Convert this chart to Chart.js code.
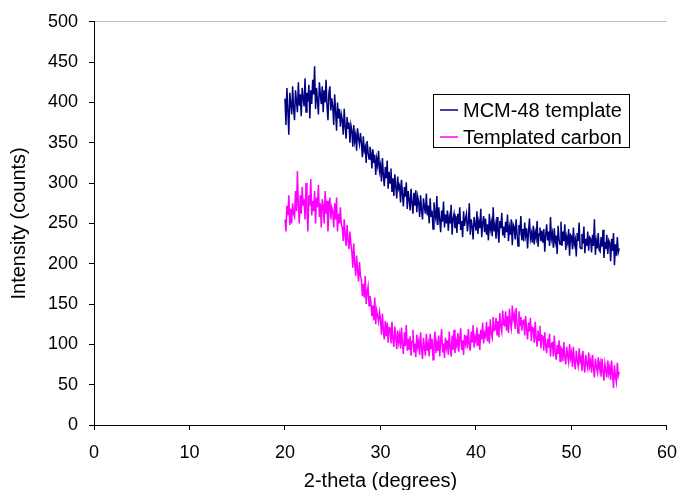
<!DOCTYPE html>
<html>
<head>
<meta charset="utf-8">
<script src="https://cdn.jsdelivr.net/npm/chart.js@4/dist/chart.umd.min.js"></script>
<style>
  html, body { margin: 0; padding: 0; background: #fff; }
  #wrap { width: 689px; height: 490px; position: relative; }
</style>
</head>
<body>
<div id="wrap"><canvas id="grafico" width="689" height="490"></canvas></div>
<script>
// 2-theta sampling points (degrees)
const twoTheta = [
  20.0,20.1,20.2,20.3,20.4,20.5,20.6,20.7,20.8,20.9,
  21.0,21.1,21.2,21.3,21.4,21.5,21.6,21.7,21.8,21.9,
  22.0,22.1,22.2,22.3,22.4,22.5,22.6,22.7,22.8,22.9,
  23.0,23.1,23.2,23.3,23.4,23.5,23.6,23.7,23.8,23.9,
  24.0,24.1,24.2,24.3,24.4,24.5,24.6,24.7,24.8,24.9,
  25.0,25.1,25.2,25.3,25.4,25.5,25.6,25.7,25.8,25.9,
  26.0,26.1,26.2,26.3,26.4,26.5,26.6,26.7,26.8,26.9,
  27.0,27.1,27.2,27.3,27.4,27.5,27.6,27.7,27.8,27.9,
  28.0,28.1,28.2,28.3,28.4,28.5,28.6,28.7,28.8,28.9,
  29.0,29.1,29.2,29.3,29.4,29.5,29.6,29.7,29.8,29.9,
  30.0,30.1,30.2,30.3,30.4,30.5,30.6,30.7,30.8,30.9,
  31.0,31.1,31.2,31.3,31.4,31.5,31.6,31.7,31.8,31.9,
  32.0,32.1,32.2,32.3,32.4,32.5,32.6,32.7,32.8,32.9,
  33.0,33.1,33.2,33.3,33.4,33.5,33.6,33.7,33.8,33.9,
  34.0,34.1,34.2,34.3,34.4,34.5,34.6,34.7,34.8,34.9,
  35.0,35.1,35.2,35.3,35.4,35.5,35.6,35.7,35.8,35.9,
  36.0,36.1,36.2,36.3,36.4,36.5,36.6,36.7,36.8,36.9,
  37.0,37.1,37.2,37.3,37.4,37.5,37.6,37.7,37.8,37.9,
  38.0,38.1,38.2,38.3,38.4,38.5,38.6,38.7,38.8,38.9,
  39.0,39.1,39.2,39.3,39.4,39.5,39.6,39.7,39.8,39.9,
  40.0,40.1,40.2,40.3,40.4,40.5,40.6,40.7,40.8,40.9,
  41.0,41.1,41.2,41.3,41.4,41.5,41.6,41.7,41.8,41.9,
  42.0,42.1,42.2,42.3,42.4,42.5,42.6,42.7,42.8,42.9,
  43.0,43.1,43.2,43.3,43.4,43.5,43.6,43.7,43.8,43.9,
  44.0,44.1,44.2,44.3,44.4,44.5,44.6,44.7,44.8,44.9,
  45.0,45.1,45.2,45.3,45.4,45.5,45.6,45.7,45.8,45.9,
  46.0,46.1,46.2,46.3,46.4,46.5,46.6,46.7,46.8,46.9,
  47.0,47.1,47.2,47.3,47.4,47.5,47.6,47.7,47.8,47.9,
  48.0,48.1,48.2,48.3,48.4,48.5,48.6,48.7,48.8,48.9,
  49.0,49.1,49.2,49.3,49.4,49.5,49.6,49.7,49.8,49.9,
  50.0,50.1,50.2,50.3,50.4,50.5,50.6,50.7,50.8,50.9,
  51.0,51.1,51.2,51.3,51.4,51.5,51.6,51.7,51.8,51.9,
  52.0,52.1,52.2,52.3,52.4,52.5,52.6,52.7,52.8,52.9,
  53.0,53.1,53.2,53.3,53.4,53.5,53.6,53.7,53.8,53.9,
  54.0,54.1,54.2,54.3,54.4,54.5,54.6,54.7,54.8,54.9,
  55.0
];

// MCM-48 template intensities (counts)
const mcm48 = [
  405,372,418,390,360,412,398,385,420,392,
  378,415,402,388,425,396,410,383,418,405,
  395,430,388,412,401,422,380,415,398,428,
  410,445,392,418,402,385,425,410,398,420,
  388,415,400,428,395,378,412,420,390,405,
  395,372,410,388,365,400,380,392,370,385,
  378,360,392,370,355,382,368,375,350,372,
  365,345,372,352,360,340,368,355,348,362,
  350,332,358,340,345,325,352,338,330,345,
  338,318,342,325,335,310,330,322,340,315,
  322,302,331,310,296,320,306,328,293,314,
  300,318,289,306,284,311,296,281,308,293,
  297,276,304,286,271,295,283,301,268,290,
  280,266,293,275,262,288,272,291,264,283,
  276,258,285,266,255,281,270,262,287,260,
  272,250,281,258,266,243,276,262,255,284,
  248,270,255,239,266,252,277,245,261,250,
  266,241,258,250,273,236,256,262,244,259,
  238,262,249,270,242,253,233,265,247,256,
  262,240,251,275,236,255,246,230,258,249,
  241,265,237,252,244,268,233,250,259,239,
  256,236,249,229,262,243,251,234,270,240,
  248,231,258,240,226,253,244,263,235,246,
  232,252,239,261,228,245,236,255,223,249,
  246,230,255,237,222,248,241,259,229,243,
  228,251,235,244,219,240,256,231,238,226,
  247,224,239,232,253,221,237,245,228,241,
  226,243,215,236,249,229,240,222,258,231,
  238,220,244,227,235,212,247,230,224,252,
  222,240,228,249,217,233,226,243,210,236,
  234,218,245,224,230,209,238,228,251,220,
  219,237,225,246,213,231,222,240,216,233,
  231,214,236,222,255,211,228,219,238,217,
  215,233,221,242,207,227,218,236,212,229,
  226,203,231,216,238,198,224,210,233,214,
  219
];

// Templated carbon intensities (counts)
const carbon = [
  255,240,272,260,285,248,268,250,275,262,
  258,290,265,315,270,250,285,262,295,272,
  280,255,300,268,240,285,272,305,260,278,
  265,290,250,282,270,298,258,275,245,280,
  272,250,290,262,278,240,268,282,255,270,
  265,245,275,255,282,240,262,250,270,248,
  245,228,255,235,222,248,230,218,240,225,
  215,195,225,200,185,210,192,178,202,185,
  180,160,175,158,185,150,165,172,148,160,
  152,135,148,130,158,125,142,135,128,140,
  131,112,138,117,106,129,110,127,102,121,
  120,101,128,106,97,122,109,94,117,103,
  112,95,121,100,88,115,98,124,92,107,
  93,110,86,104,118,90,101,84,112,97,
  104,87,115,93,82,108,96,86,113,92,
  101,85,113,94,107,81,99,116,89,102,
  92,111,85,104,119,90,101,83,108,96,
  105,87,116,96,85,111,93,118,89,104,
  98,114,91,108,120,93,105,87,112,101,
  111,95,119,100,92,116,102,124,96,109,
  104,121,98,113,93,118,106,127,101,114,
  110,128,104,122,101,131,113,108,134,117,
  118,133,112,129,109,139,121,115,142,124,
  123,141,117,135,114,144,127,120,148,131,
  137,119,145,126,114,141,123,134,117,129,
  130,111,135,119,106,127,116,133,104,121,
  120,102,128,108,97,117,105,123,95,111,
  110,92,115,98,89,107,96,113,85,101,
  102,85,111,90,81,99,88,105,79,96,
  94,79,103,84,75,97,86,78,100,83,
  90,72,97,78,69,92,80,73,95,79,
  84,67,92,74,65,87,76,70,90,73,
  80,65,87,71,59,82,73,66,84,69,
  77,60,82,66,55,76,68,59,80,64,
  72,56,80,63,46,74,60,53,77,61,
  66
];

const seriesNames = ['MCM-48 template', 'Templated carbon'];
const seriesColors = ['#000080', '#FF00FF'];

const FONT = '"Liberation Sans", Arial, sans-serif';

function toPoints(ys) {
  return ys.map((y, i) => ({ x: twoTheta[i], y: y }));
}

// legend box drawn inside the plot, like the original
const boxLegend = {
  id: 'boxLegend',
  afterDraw(chart) {
    const ctx = chart.ctx;
    const left = 433, top = 94, w = 196, h = 53;
    ctx.save();
    ctx.fillStyle = '#fff';
    ctx.fillRect(left, top, w, h);
    ctx.strokeStyle = '#000';
    ctx.lineWidth = 1;
    ctx.strokeRect(left + 0.5, top + 0.5, w, h);
    ctx.font = '20px ' + FONT;
    ctx.textBaseline = 'middle';
    seriesNames.forEach((name, i) => {
      const y = top + 16 + i * 27;
      ctx.strokeStyle = seriesColors[i];
      ctx.lineWidth = 1.5;
      ctx.beginPath();
      ctx.moveTo(left + 7, y);
      ctx.lineTo(left + 25, y);
      ctx.stroke();
      ctx.fillStyle = '#000';
      ctx.fillText(name, left + 30, y + 1);
    });
    ctx.restore();
  }
};

const ctx = document.getElementById('grafico').getContext('2d');
new Chart(ctx, {
  type: 'line',
  data: {
    datasets: [
      {
        label: seriesNames[0],
        data: toPoints(mcm48),
        borderColor: seriesColors[0],
        borderWidth: 1.5,
        pointRadius: 0,
        tension: 0,
        fill: false
      },
      {
        label: seriesNames[1],
        data: toPoints(carbon),
        borderColor: seriesColors[1],
        borderWidth: 1.5,
        pointRadius: 0,
        tension: 0,
        fill: false
      }
    ]
  },
  options: {
    responsive: false,
    animation: false,
    layout: { padding: { left: 0, right: 21, top: 13, bottom: 0 } },
    plugins: {
      legend: { display: false },
      tooltip: { enabled: false }
    },
    scales: {
      x: {
        type: 'linear',
        min: 0,
        max: 60,
        ticks: { stepSize: 10, color: '#000', font: { family: FONT, size: 18 }, padding: 12 },
        grid: { drawOnChartArea: false, drawTicks: true, tickLength: 5, color: '#000' },
        border: { display: true, color: '#000', width: 1 },
        title: { display: true, text: '2-theta (degrees)', color: '#000', font: { family: FONT, size: 20 }, padding: { top: 0, bottom: -3 } },
        afterFit(scale) { scale.height = 65; }
      },
      y: {
        min: 0,
        max: 500,
        ticks: { stepSize: 50, color: '#000', font: { family: FONT, size: 18 }, padding: 11 },
        grid: {
          drawOnChartArea: true,
          drawTicks: true,
          tickLength: 5,
          tickColor: '#000',
          // only the top edge of the plot area shows, in light grey
          color: c => (c.tick && c.tick.value === 500 ? '#c0c0c0' : 'rgba(0,0,0,0)')
        },
        border: { display: true, color: '#000', width: 1 },
        title: { display: true, text: 'Intensity (counts)', color: '#000', font: { family: FONT, size: 20 }, padding: { top: 7, bottom: 0 } },
        afterFit(scale) { scale.width = 94; }
      }
    }
  },
  plugins: [boxLegend]
});
</script>
</body>
</html>
